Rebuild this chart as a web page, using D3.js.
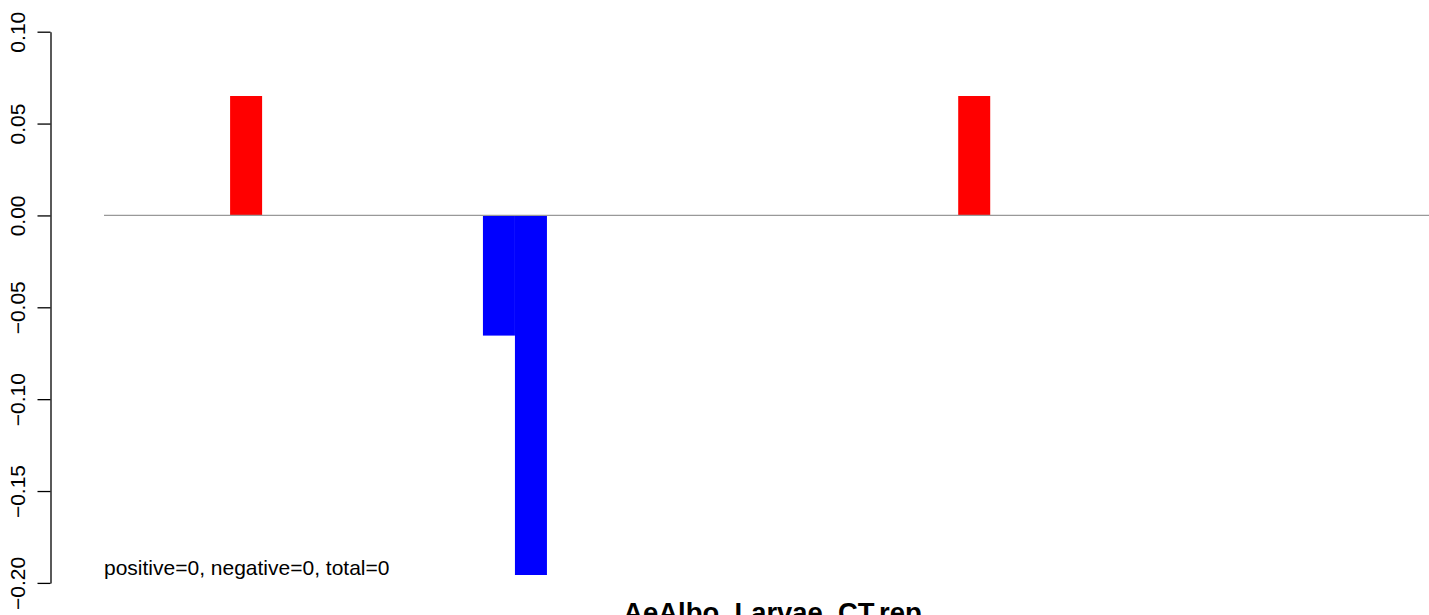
<!DOCTYPE html>
<html>
<head>
<meta charset="utf-8">
<script src="https://cdn.jsdelivr.net/npm/d3@7"></script>
<style>
  html, body { margin: 0; padding: 0; background: #fff; }
  svg { display: block; font-family: "Liberation Sans", Arial, Helvetica, sans-serif; }
</style>
</head>
<body>
<svg id="chart" width="1429" height="615"></svg>
<script>
// ---- data ----
const barStart = [3.94, 11.84, 12.84, 26.69];   // window index (left edge)
const barWidth = [1, 1, 1, 1];
const barValue = [0.065, -0.0654, -0.1957, 0.065];
const yTicks = [0.10, 0.05, 0.00, -0.05, -0.10, -0.15, -0.20];
const yTickLabels = ["0.10", "0.05", "0.00", "\u22120.05", "\u22120.10", "\u22120.15", "\u22120.20"];
const statsLabel = "positive=0, negative=0, total=0";
const titleLabel = "AeAlbo_Larvae_CT.rep";

const svg = d3.select("#chart");
const W = 1429, H = 615;

const x = d3.scaleLinear().domain([0, 41.4]).range([104, 1429]);
const y = d3.scaleLinear().domain([-0.20, 0.10]).range([582.9, 31.7]);

// y axis
const axisX = 50.5;
const yAxis = d3.axisLeft(y).tickValues(yTicks)
  .tickFormat((d, i) => yTickLabels[i]).tickSize(13).tickSizeOuter(0);
const gy = svg.append("g").attr("transform", `translate(${axisX},0)`).call(yAxis);
gy.select(".domain").attr("stroke", "#000").attr("stroke-width", 1.3);
gy.selectAll(".tick line").attr("stroke", "#000").attr("stroke-width", 1.3);
gy.selectAll(".tick text")
  .attr("font-size", 21).attr("fill", "#000")
  .attr("text-anchor", "middle")
  .attr("dy", 0)
  .attr("x", 0).attr("y", 0)
  .attr("transform", `translate(${25 - axisX},0) rotate(-90)`);

// bars
svg.append("g").selectAll("rect")
  .data(barValue)
  .join("rect")
  .attr("x", (d, i) => x(barStart[i]))
  .attr("width", (d, i) => x(barStart[i] + barWidth[i]) - x(barStart[i]))
  .attr("y", d => d >= 0 ? y(d) : y(0))
  .attr("height", d => Math.abs(y(d) - y(0)))
  .attr("fill", d => d >= 0 ? "#ff0000" : "#0000ff");

// zero line
svg.append("line")
  .attr("x1", x(0)).attr("x2", W)
  .attr("y1", y(0)).attr("y2", y(0))
  .attr("stroke", "#999999").attr("stroke-width", 1.3);

// stats text
svg.append("text")
  .attr("x", x(0)).attr("y", 575)
  .attr("font-size", 21).attr("fill", "#000")
  .text(statsLabel);

// title
svg.append("text")
  .attr("x", 772.5).attr("y", 622)
  .attr("text-anchor", "middle")
  .attr("font-size", 27.4).attr("font-weight", "bold").attr("fill", "#000")
  .text(titleLabel);
</script>
</body>
</html>
